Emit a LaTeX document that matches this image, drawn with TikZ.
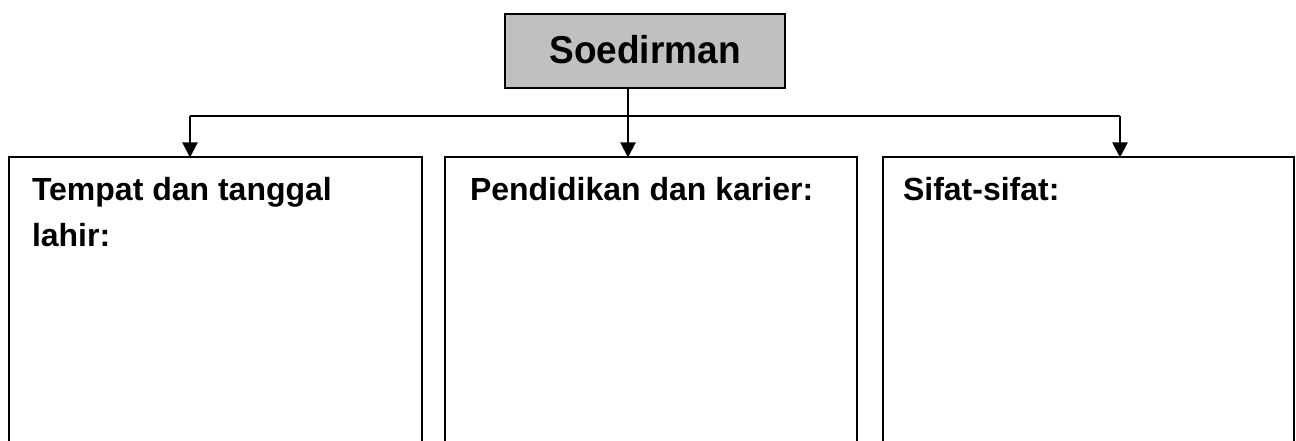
\documentclass[tikz,border=0pt]{standalone}
\usepackage{fontspec}
\setmainfont{Liberation Sans}
\usetikzlibrary{arrows.meta}
\definecolor{boxgray}{HTML}{C0C0C0}
\tikzset{
  x=1pt, y=1pt,
  line/.style={line width=2pt, black},
  arr/.style={line, -{Triangle[width=15pt,length=15pt]}, shorten >=-0.5pt},
  topbox/.style={draw=black, line width=2pt, fill=boxgray, minimum width=280pt, minimum height=74pt,
    inner sep=0pt, outer sep=0pt, font=\fontsize{37}{44}\selectfont\bfseries},
  panel/.style={draw=none, minimum width=413pt, minimum height=320pt, inner sep=0pt, outer sep=0pt, anchor=north west},
  lbl/.style={inner sep=0pt, outer sep=0pt, anchor=north west, align=left,
    font=\fontsize{32}{46}\selectfont\bfseries}
}
\begin{document}
\begin{tikzpicture}
\useasboundingbox (0,0) rectangle (1296,-441);
% top box
\node[topbox] (top) at (645,-51) {\scalebox{1}[1.05]{\raisebox{3pt}{Soedirman}}};
% panels
\node[panel] (b1) at (9,-157) {};
\node[panel, minimum width=412pt] (b2) at (445,-157) {};
\node[panel, minimum width=411pt] (b3) at (883,-157) {};
\foreach \b in {b1,b2,b3}{
  \draw[line] (\b.south west) -- (\b.north west) -- (\b.north east) -- (\b.south east);
}
% texts
\node[lbl] (t1) at (32,-177) {Tempat dan tanggal\\lahir:};
\node[lbl] (t2) at (470,-177) {Pendidikan dan karier:};
\node[lbl] (t3) at (903,-177) {Sifat-sifat:};
% connectors
\coordinate (j) at (628,-116);
\coordinate (bl) at (190,-116);
\coordinate (br) at (1120,-116);
\draw[line] (top.south -| j) -- (j);
\draw[line] (bl) -- (br);
\draw[arr] (bl) -- (bl |- b1.north);
\draw[arr] (j) -- (j |- b2.north);
\draw[arr] (br) -- (br |- b3.north);
\end{tikzpicture}
\end{document}
